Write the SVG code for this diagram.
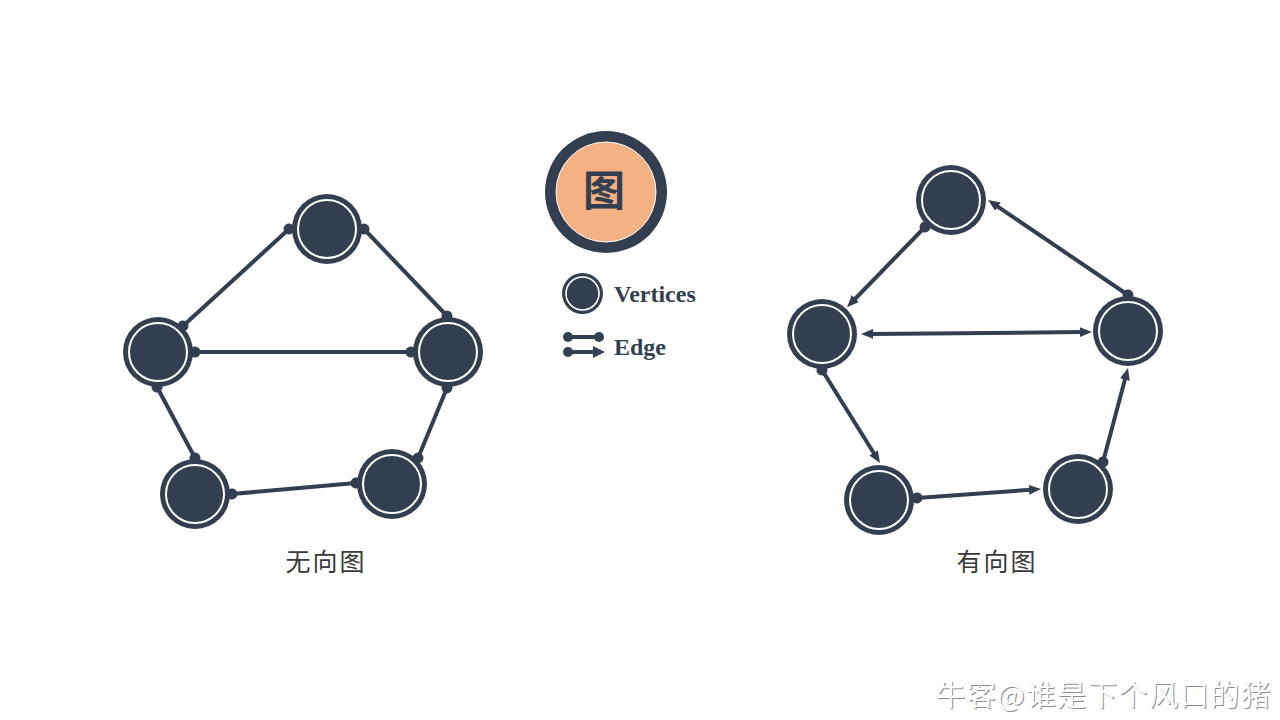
<svg xmlns="http://www.w3.org/2000/svg" width="1280" height="720" viewBox="0 0 1280 720">
<style>
.edge{stroke:#333F50;stroke-width:4;fill:none}
.outer{fill:#333F50}
.ring{fill:#333F50;stroke:#FFFFFF;stroke-width:2}
.lbl{font-family:"Noto Sans CJK SC","Noto Sans",sans-serif;font-size:25px;fill:#3A3A3A;text-anchor:middle;letter-spacing:2px}
.leg{font-family:"Liberation Serif","DejaVu Serif",serif;font-weight:bold;font-size:24px;fill:#333F50}
.wm{font-family:"Noto Sans CJK SC",sans-serif;font-size:29px}
</style>
<defs>
<marker id="dot" markerUnits="userSpaceOnUse" markerWidth="12" markerHeight="12" viewBox="0 0 12 12" refX="6" refY="6" orient="auto">
<circle cx="6" cy="6" r="5.5" fill="#333F50"/>
</marker>
<marker id="arr" markerUnits="userSpaceOnUse" markerWidth="14" markerHeight="12" viewBox="0 0 14 12" refX="2" refY="6" orient="auto-start-reverse">
<path d="M0,1 L12,6 L0,11 z" fill="#333F50"/>
</marker>
</defs>
<rect width="1280" height="720" fill="#FFFFFF"/>

<g id="connectors">
<line class="edge" x1="289" y1="229" x2="183" y2="326" marker-start="url(#dot)" marker-end="url(#dot)"/>
<line class="edge" x1="364" y1="229" x2="447" y2="316" marker-start="url(#dot)" marker-end="url(#dot)"/>
<line class="edge" x1="195" y1="352" x2="411" y2="352" marker-start="url(#dot)" marker-end="url(#dot)"/>
<line class="edge" x1="157" y1="387" x2="195" y2="458" marker-start="url(#dot)" marker-end="url(#dot)"/>
<line class="edge" x1="232" y1="494" x2="356" y2="483" marker-start="url(#dot)" marker-end="url(#dot)"/>
<line class="edge" x1="418" y1="458" x2="447" y2="388" marker-start="url(#dot)" marker-end="url(#dot)"/>

<line class="edge" x1="925" y1="227" x2="854" y2="300" marker-start="url(#dot)" marker-end="url(#arr)"/>
<line class="edge" x1="1128" y1="295" x2="996.3" y2="205.6" marker-start="url(#dot)" marker-end="url(#arr)"/>
<line class="edge" x1="871" y1="333.9" x2="1082" y2="332.1" marker-start="url(#arr)" marker-end="url(#arr)"/>
<line class="edge" x1="822" y1="370" x2="874.7" y2="454.5" marker-start="url(#dot)" marker-end="url(#arr)"/>
<line class="edge" x1="917" y1="498" x2="1031" y2="489.7" marker-start="url(#dot)" marker-end="url(#arr)"/>
<line class="edge" x1="1103" y1="462" x2="1125.4" y2="377.7" marker-start="url(#dot)" marker-end="url(#arr)"/>
</g>

<g id="u-top"><circle class="outer" cx="327" cy="229" r="35"/><circle class="ring" cx="327" cy="229" r="29"/></g>
<g id="u-left"><circle class="outer" cx="158" cy="352" r="35"/><circle class="ring" cx="158" cy="352" r="29"/></g>
<g id="u-right"><circle class="outer" cx="448" cy="352" r="35"/><circle class="ring" cx="448" cy="352" r="29"/></g>
<g id="u-bl"><circle class="outer" cx="195" cy="494" r="35"/><circle class="ring" cx="195" cy="494" r="29"/></g>
<g id="u-br"><circle class="outer" cx="392" cy="484" r="35"/><circle class="ring" cx="392" cy="484" r="29"/></g>

<g id="d-top"><circle class="outer" cx="951" cy="200" r="35"/><circle class="ring" cx="951" cy="200" r="29"/></g>
<g id="d-left"><circle class="outer" cx="822" cy="334" r="35"/><circle class="ring" cx="822" cy="334" r="29"/></g>
<g id="d-right"><circle class="outer" cx="1128" cy="331" r="35"/><circle class="ring" cx="1128" cy="331" r="29"/></g>
<g id="d-bl"><circle class="outer" cx="879" cy="500" r="35"/><circle class="ring" cx="879" cy="500" r="29"/></g>
<g id="d-br"><circle class="outer" cx="1078" cy="489" r="35"/><circle class="ring" cx="1078" cy="489" r="29"/></g>

<g id="title">
<circle cx="606" cy="192" r="61" fill="#333F50"/>
<circle cx="606" cy="192" r="50" fill="#F4B183" stroke="#FFFFFF" stroke-width="1"/>
<text x="604" y="206" text-anchor="middle" font-family="Noto Sans CJK SC, sans-serif" font-weight="bold" font-size="42" fill="#333F50">图</text>
</g>

<g id="legend-vertices">
<circle cx="582.5" cy="293.5" r="20.5" fill="#333F50"/>
<circle cx="582.5" cy="293.5" r="16.5" fill="#333F50" stroke="#FFFFFF" stroke-width="1.6"/>
<text class="leg" x="614" y="302">Vertices</text>
</g>
<g id="legend-edge">
<line x1="567" y1="337" x2="599" y2="337" stroke="#333F50" stroke-width="4"/>
<circle cx="568" cy="337" r="5" fill="#333F50"/>
<circle cx="599" cy="337" r="5" fill="#333F50"/>
<line x1="567" y1="352" x2="596" y2="352" stroke="#333F50" stroke-width="4"/>
<circle cx="568" cy="352" r="5" fill="#333F50"/>
<path d="M593,346 L605,352 L593,358 z" fill="#333F50"/>
<text class="leg" x="614" y="355">Edge</text>
</g>

<g id="labels">
<text class="lbl" x="326" y="571">无向图</text>
<text class="lbl" x="997" y="571">有向图</text>
</g>

<g id="watermark">
<text class="wm" x="937" y="707" fill="#8C8C8C" textLength="334">牛客@谁是下个风口的猪</text>
<text class="wm" x="936" y="706" fill="#FFFFFF" textLength="334">牛客@谁是下个风口的猪</text>
</g>
</svg>
